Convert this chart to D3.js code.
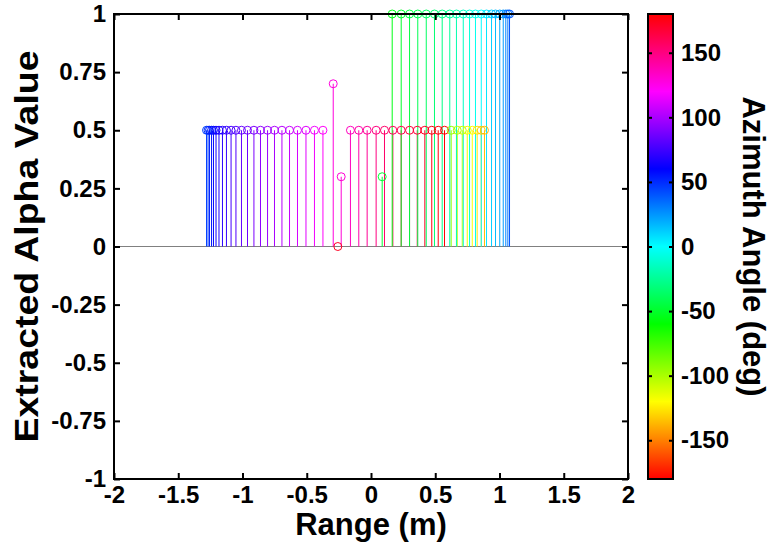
<!DOCTYPE html>
<html lang="en">

<head>
    <meta charset="utf-8">
    <title>Extracted alpha vs range</title>
    <script type="text/javascript" src="https://d3js.org/d3.v7.min.js"></script>
    <style>
        body { margin: 0; background: #fff; }
        text { font-family: "Liberation Sans", Arial, sans-serif; font-weight: bold; fill: #000; }
    </style>
</head>

<body>
    <div id="container"></div>
    <script type="text/javascript">
        var w = 772;
        var h = 548;

        // stems at alpha 0.5, blue -> magenta side
        var leftRanges = [-1.280, -1.268, -1.257, -1.241, -1.226, -1.206, -1.183, -1.156, -1.125, -1.089, -1.051, -1.008,
            -0.961, -0.911, -0.860, -0.805, -0.751, -0.693, -0.634, -0.572, -0.506, -0.440, -0.374];
        var leftAz = [45, 48, 52, 55, 59, 62, 65, 69, 72, 76, 79, 83, 86, 89, 93, 96, 100, 103, 106, 110, 113, 117, 121];

        // the odd ones in the middle
        var oddRanges = [-0.294, -0.258, -0.232, 0.087];
        var oddAlpha = [0.7, 0, 0.3, 0.3];
        var oddAz = [128, 172, 130, -48];

        // stems at alpha 0.5, pink -> red, then yellow
        var rightRanges = [-0.160, -0.095, -0.030, 0.040, 0.105, 0.170, 0.235, 0.300, 0.360, 0.419, 0.473, 0.523, 0.572,
            0.624, 0.671, 0.710, 0.749, 0.788, 0.826, 0.858, 0.883];
        var rightAz = [135, 140, 145, 150, 155, 158, 162, 166, 168, 172, 176, 178, 179,
            -95, -102, -108, -115, -120, -126, -132, -136];

        // stems at alpha 1, green -> cyan -> blue
        var fullRanges = [0.165, 0.235, 0.300, 0.364, 0.430, 0.494, 0.554, 0.613, 0.665, 0.718, 0.767, 0.813, 0.858,
            0.899, 0.938, 0.969, 1.002, 1.029, 1.049, 1.065, 1.078];
        var fullAz = [-55, -50, -45, -41, -37, -33, -29, -24, -19, -14, -9, -4, 1, 6, 11, 16, 20, 24, 28, 33, 40];

        var xTicks = [-2, -1.5, -1, -0.5, 0, 0.5, 1, 1.5, 2];
        var yTicks = [-1, -0.75, -0.5, -0.25, 0, 0.25, 0.5, 0.75, 1];
        var cbTicks = [-150, -100, -50, 0, 50, 100, 150];

        var stems = [];
        leftRanges.forEach((r, i) => stems.push({ r: r, a: 0.5, az: leftAz[i] }));
        oddRanges.forEach((r, i) => stems.push({ r: r, a: oddAlpha[i], az: oddAz[i] }));
        rightRanges.forEach((r, i) => stems.push({ r: r, a: 0.5, az: rightAz[i] }));
        fullRanges.forEach((r, i) => stems.push({ r: r, a: 1, az: fullAz[i] }));

        const svg = d3.select("div#container")
            .append("svg")
            .attr("width", w)
            .attr("height", h);

        // plot box (pixels)
        var pL = 114, pR = 628, pT = 14, pB = 479;
        var x = d3.scaleLinear().domain([-2, 2]).range([pL, pR]);
        var y = d3.scaleLinear().domain([-1, 1]).range([pB, pT]);
        var fmt = (d) => String(d);

        // azimuth -> hsv colormap (red at -180 and 180)
        var color = (az) => d3.hsl(az + 180, 1, 0.5).toString();

        // baseline
        svg.append("line")
            .attr("x1", pL).attr("x2", pR)
            .attr("y1", y(0)).attr("y2", y(0))
            .attr("stroke", "#808080").attr("stroke-width", 1);

        // stems
        svg.selectAll("line.stem")
            .data(stems)
            .enter()
            .append("line")
            .attr("class", "stem")
            .attr("x1", (d) => x(d.r)).attr("x2", (d) => x(d.r))
            .attr("y1", y(0)).attr("y2", (d) => y(d.a))
            .attr("stroke", (d) => color(d.az))
            .attr("stroke-width", 1);

        svg.selectAll("circle.head")
            .data(stems)
            .enter()
            .append("circle")
            .attr("class", "head")
            .attr("cx", (d) => x(d.r))
            .attr("cy", (d) => y(d.a))
            .attr("r", 4)
            .attr("fill", "none")
            .attr("stroke", (d) => color(d.az))
            .attr("stroke-width", 1);

        // axes box with inward ticks
        var tl = 6;
        svg.append("rect")
            .attr("x", pL).attr("y", pT)
            .attr("width", pR - pL).attr("height", pB - pT)
            .attr("fill", "none").attr("stroke", "#000").attr("stroke-width", 2);

        svg.append("g").attr("transform", "translate(0," + pB + ")")
            .call(d3.axisBottom(x).tickValues(xTicks).tickSizeInner(-tl).tickSizeOuter(0).tickPadding(7).tickFormat(fmt))
            .call((g) => g.select(".domain").remove());
        svg.append("g").attr("transform", "translate(0," + pT + ")")
            .call(d3.axisTop(x).tickValues(xTicks).tickSizeInner(-tl).tickSizeOuter(0).tickFormat(""))
            .call((g) => g.select(".domain").remove());
        svg.append("g").attr("transform", "translate(" + pL + ",0)")
            .call(d3.axisLeft(y).tickValues(yTicks).tickSizeInner(-tl).tickSizeOuter(0).tickPadding(8).tickFormat(fmt))
            .call((g) => g.select(".domain").remove());
        svg.append("g").attr("transform", "translate(" + pR + ",0)")
            .call(d3.axisRight(y).tickValues(yTicks).tickSizeInner(-tl).tickSizeOuter(0).tickFormat(""))
            .call((g) => g.select(".domain").remove());

        // colorbar
        var cbL = 648, cbR = 673;
        var cy = d3.scaleLinear().domain([-180, 180]).range([pB, pT]);
        var grad = svg.append("defs").append("linearGradient")
            .attr("id", "hsvgrad").attr("x1", 0).attr("y1", 1).attr("x2", 0).attr("y2", 0);
        d3.range(0, 361, 10).forEach((hue) => {
            grad.append("stop").attr("offset", hue / 360).attr("stop-color", d3.hsl(hue, 1, 0.5).toString());
        });
        svg.append("rect")
            .attr("x", cbL).attr("y", pT)
            .attr("width", cbR - cbL).attr("height", pB - pT)
            .attr("fill", "url(#hsvgrad)")
            .attr("stroke", "#000").attr("stroke-width", 2);

        svg.append("g").attr("transform", "translate(" + cbR + ",0)")
            .call(d3.axisRight(cy).tickValues(cbTicks).tickSizeInner(-4).tickSizeOuter(0).tickPadding(8).tickFormat(fmt))
            .call((g) => g.select(".domain").remove());
        svg.append("g").attr("transform", "translate(" + cbL + ",0)")
            .call(d3.axisLeft(cy).tickValues(cbTicks).tickSizeInner(-4).tickSizeOuter(0).tickFormat(""))
            .call((g) => g.select(".domain").remove());

        svg.selectAll(".tick line").attr("stroke", "#000").attr("stroke-width", 2);
        svg.selectAll(".tick text").style("font-size", "24px").style("font-family", "Liberation Sans, Arial, sans-serif")
            .style("font-weight", "bold").attr("fill", "#000");

        // axis titles
        svg.append("text")
            .attr("x", (pL + pR) / 2).attr("y", 535)
            .attr("text-anchor", "middle")
            .style("font-size", "31px")
            .text("Range (m)");

        svg.append("text")
            .attr("transform", "translate(38," + y(0) + ") rotate(-90)")
            .attr("text-anchor", "middle")
            .attr("textLength", 392)
            .attr("lengthAdjust", "spacingAndGlyphs")
            .style("font-size", "34px")
            .text("Extracted Alpha Value");

        svg.append("text")
            .attr("transform", "translate(743," + y(0) + ") rotate(90)")
            .attr("text-anchor", "middle")
            .style("font-size", "31px")
            .text("Azimuth Angle (deg)");
    </script>
</body>

</html>
